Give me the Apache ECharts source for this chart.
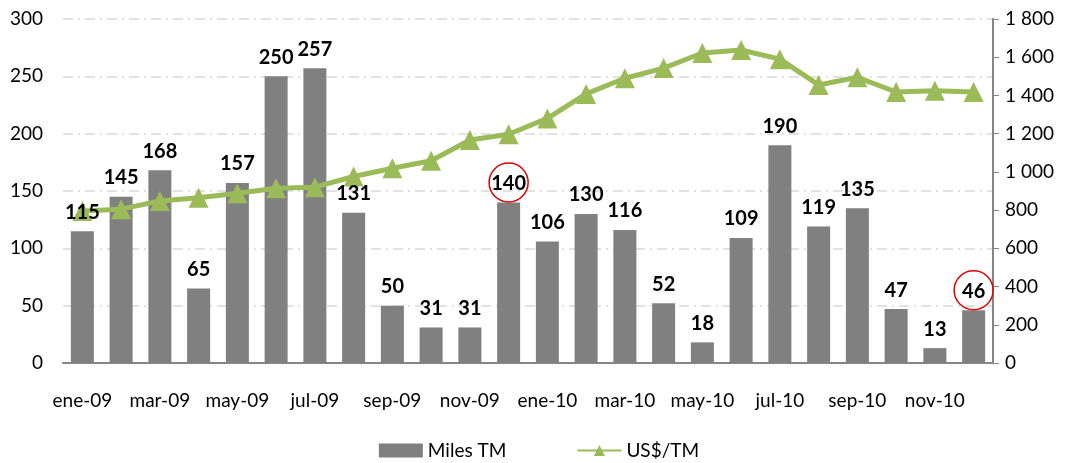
<!DOCTYPE html>
<html>
<head>
<meta charset="utf-8">
<script src="https://cdn.jsdelivr.net/npm/echarts@6/dist/echarts.min.js"></script>
<style>
  html, body { margin: 0; padding: 0; background: #fff; }
  #chart { width: 1078px; height: 463px; }
</style>
</head>
<body>
<div id="chart"></div>
<script>
var months = ['ene-09', 'feb-09', 'mar-09', 'abr-09', 'may-09', 'jun-09', 'jul-09', 'ago-09',
    'sep-09', 'oct-09', 'nov-09', 'dic-09', 'ene-10', 'feb-10', 'mar-10', 'abr-10',
    'may-10', 'jun-10', 'jul-10', 'ago-10', 'sep-10', 'oct-10', 'nov-10', 'dic-10'];
var milesTM = [115, 145, 168, 65, 157, 250, 257, 131, 50, 31, 31, 140,
    106, 130, 116, 52, 18, 109, 190, 119, 135, 47, 13, 46];
var usdTM = [795, 805, 848, 865, 888, 914, 920, 976, 1019, 1058, 1167, 1197,
    1280, 1408, 1490, 1543, 1622, 1638, 1590, 1455, 1495, 1418, 1425, 1418];
var circled = [11, 23];

var font = 'Lato';

function ShowComboChart(div_name) {
    var myChart = echarts.init(document.getElementById(div_name));
    var marks = circled.map(function (i) {
        return { coord: [i, milesTM[i]] };
    });
    myChart.setOption({
        animation: false,
        textStyle: { fontFamily: font },
        grid: { left: 63, right: 85, top: 19, bottom: 100 },
        legend: {
            bottom: -2,
            left: 'center',
            itemWidth: 44,
            itemHeight: 14,
            itemGap: 70,
            textStyle: { fontSize: 19, color: '#000', fontFamily: font },
            data: [
                { name: 'Miles TM', icon: 'rect' },
                { name: 'US$/TM' }
            ]
        },
        xAxis: [
            {
                type: 'category',
                data: months,
                axisLine: { lineStyle: { color: '#868686', width: 2 } },
                axisTick: { show: false },
                axisLabel: { interval: 1, color: '#000', fontSize: 19, margin: 28 }
            }
        ],
        yAxis: [
            {
                type: 'value',
                min: 0, max: 300, interval: 50,
                axisLine: { show: false },
                axisTick: { show: false },
                axisLabel: { color: '#000', fontSize: 19, margin: 20 },
                splitLine: { lineStyle: { color: '#D9D9D9', type: [10, 5, 2, 5], width: 1.5 } }
            },
            {
                type: 'value',
                min: 0, max: 1800, interval: 200,
                axisLine: { show: true, lineStyle: { color: '#868686', width: 2 } },
                axisTick: { show: true, length: 6, lineStyle: { color: '#868686' } },
                axisLabel: {
                    color: '#000', fontSize: 19, margin: 12,
                    formatter: function (v) {
                        return String(v).replace(/\B(?=(\d{3})+(?!\d))/g, ' ');
                    }
                },
                splitLine: { show: false }
            }
        ],
        series: [
            {
                name: 'Miles TM',
                type: 'bar',
                data: milesTM,
                barWidth: 23,
                itemStyle: { color: '#808080' },
                z: 2
            },
            {
                name: 'US$/TM',
                type: 'line',
                yAxisIndex: 1,
                data: usdTM,
                symbol: 'triangle',
                symbolSize: 20,
                lineStyle: { color: '#9BBB59', width: 5 },
                itemStyle: { color: '#9BBB59' },
                z: 3
            },
            // labels drawn above the line
            {
                name: 'labels',
                type: 'bar',
                data: milesTM,
                barWidth: 23,
                barGap: '-100%',
                silent: true,
                itemStyle: { color: 'rgba(0,0,0,0)' },
                label: {
                    show: true, position: 'top', distance: 9,
                    fontWeight: 'bold', fontSize: 20, color: '#000', fontFamily: font
                },
                markPoint: {
                    symbol: 'circle',
                    symbolSize: 39,
                    symbolOffset: [0, -20],
                    silent: true,
                    label: { show: false },
                    itemStyle: { color: 'rgba(0,0,0,0)', borderColor: '#E00000', borderWidth: 1.5 },
                    data: marks
                },
                z: 4
            }
        ]
    });
}

ShowComboChart('chart');
</script>
</body>
</html>
